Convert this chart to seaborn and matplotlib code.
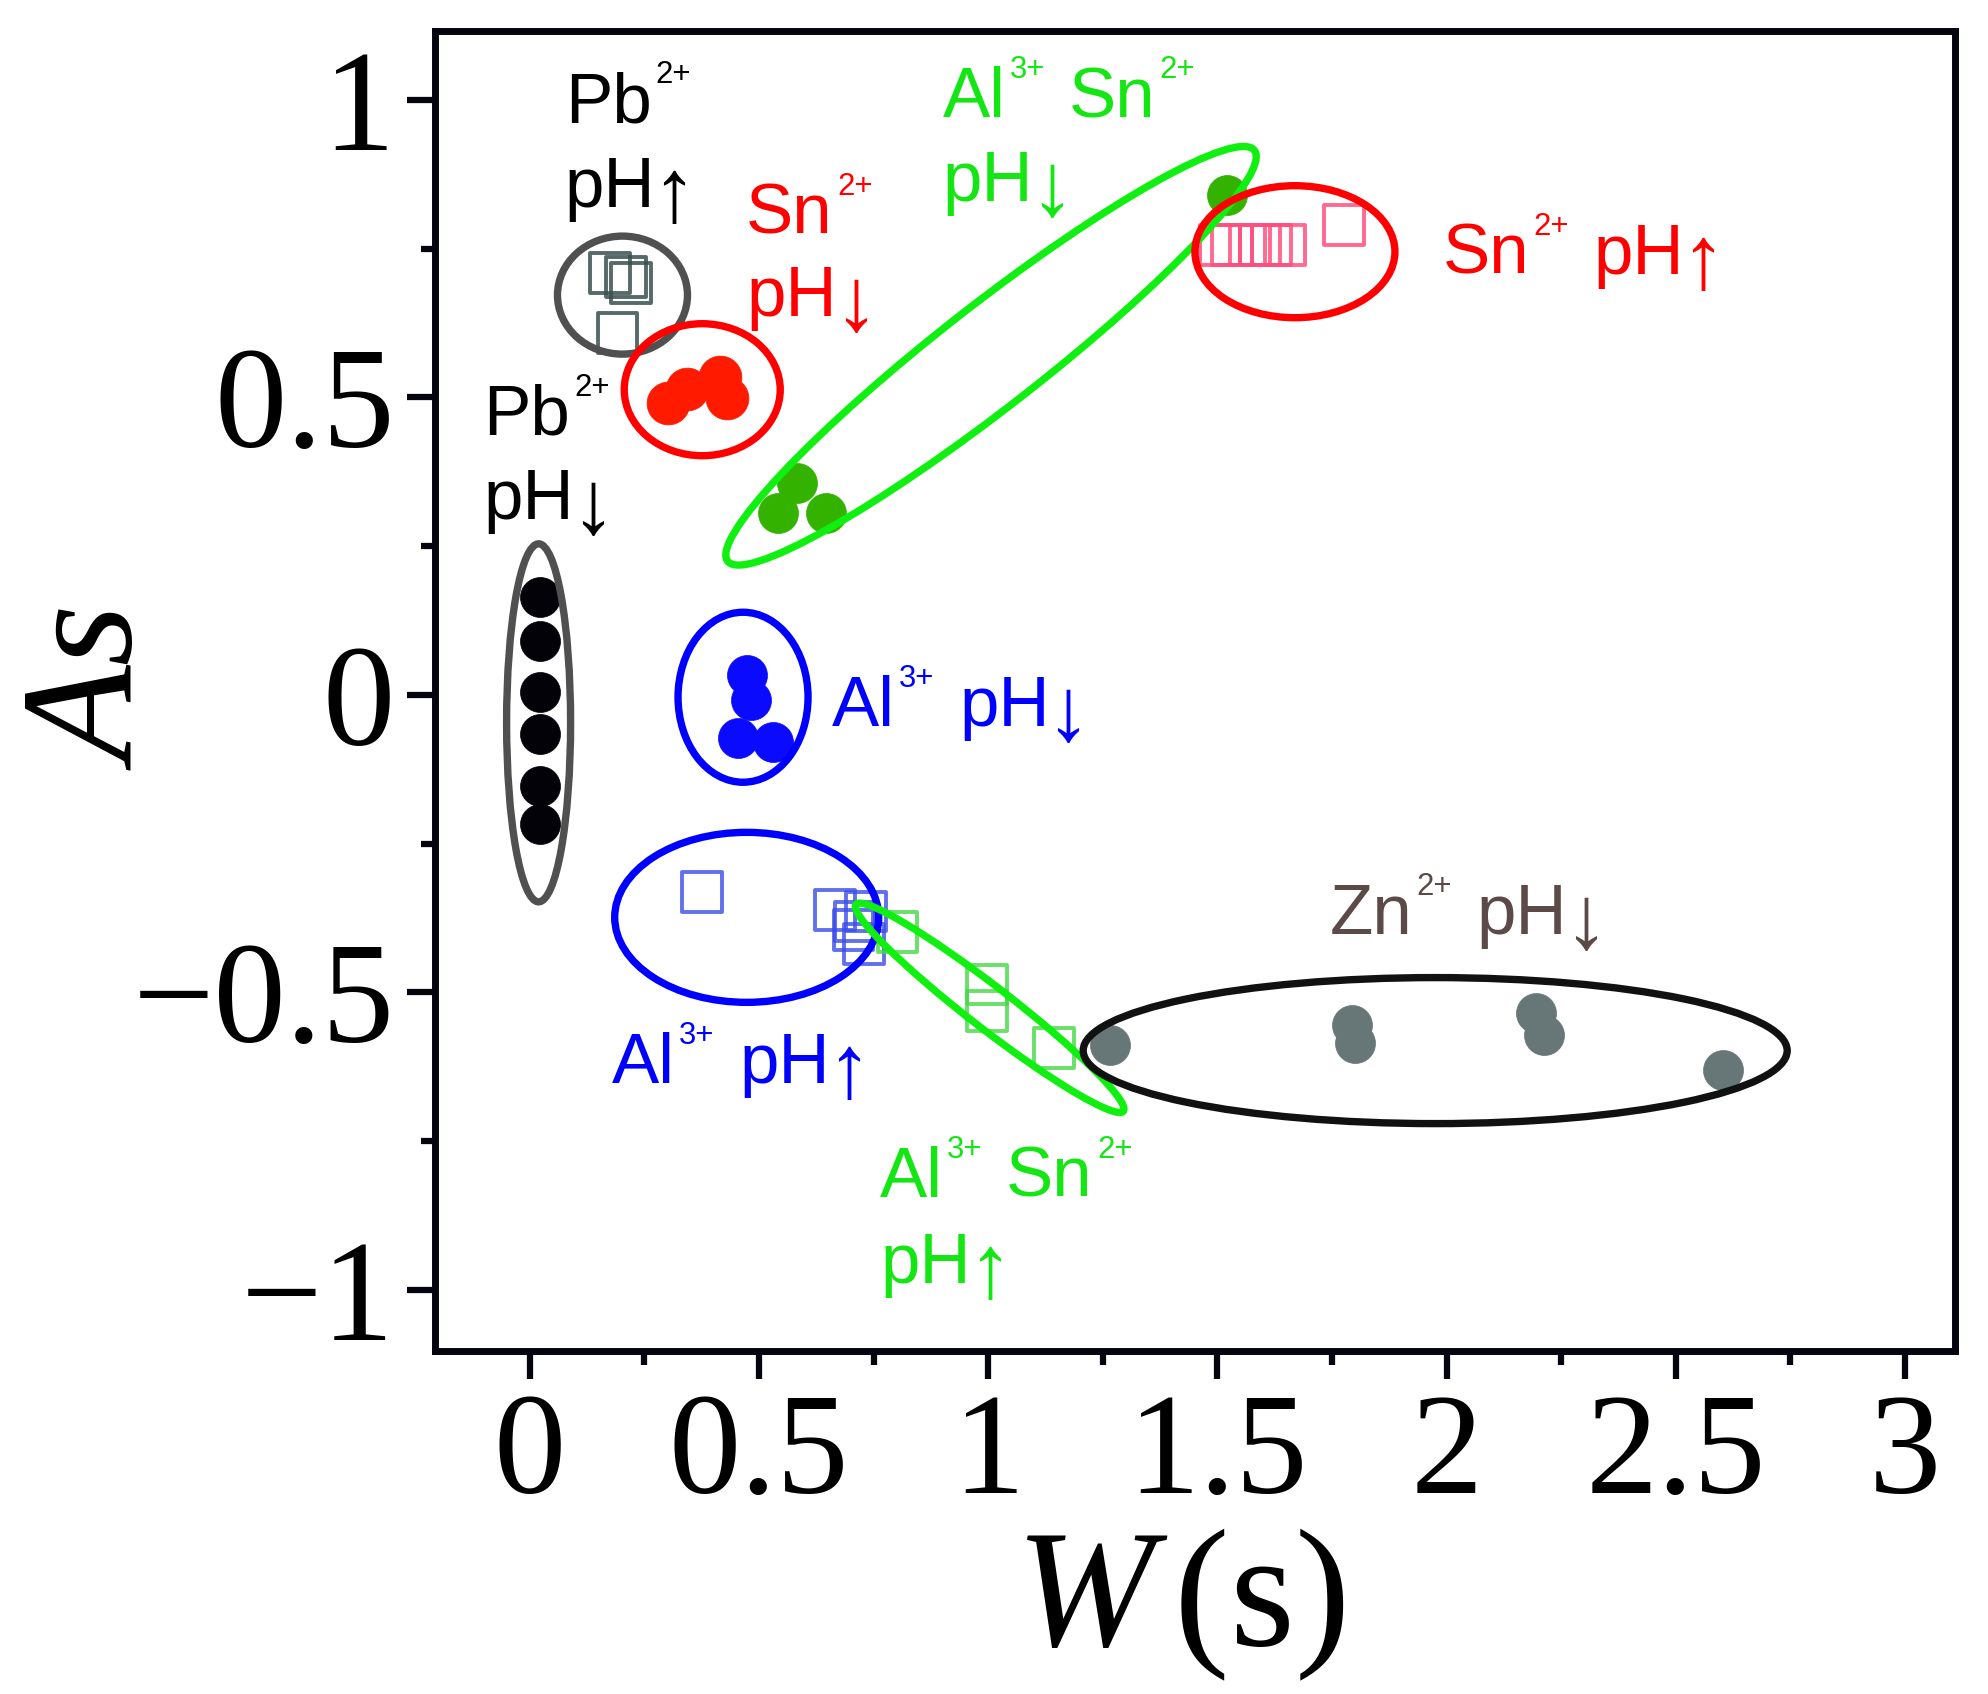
import matplotlib
matplotlib.use("Agg")
import numpy as np
import pandas as pd
import seaborn as sns
import matplotlib.pyplot as plt
from matplotlib.patches import Ellipse
from matplotlib.transforms import Affine2D
from matplotlib.ticker import MultipleLocator, FuncFormatter

# ---------------- data ----------------
pb_up_W = [0.175, 0.209, 0.220, 0.191]
pb_up_As = [0.709, 0.702, 0.692, 0.608]

pb_down_W = [0.023, 0.023, 0.023, 0.023, 0.023, 0.023]
pb_down_As = [0.165, 0.091, 0.004, -0.066, -0.154, -0.217]

sn_down_W = [0.302, 0.342, 0.415, 0.429]
sn_down_As = [0.491, 0.515, 0.535, 0.499]

alsn_down_W = [0.542, 0.582, 0.647, 1.520]
alsn_down_As = [0.305, 0.356, 0.305, 0.840]

sn_up_W = [1.506, 1.531, 1.571, 1.593, 1.618, 1.647, 1.776]
sn_up_As = [0.756, 0.756, 0.756, 0.756, 0.756, 0.756, 0.790]

al_down_W = [0.473, 0.482, 0.455, 0.530]
al_down_As = [0.034, -0.008, -0.073, -0.080]

al_up_W = [0.375, 0.666, 0.706, 0.710, 0.733, 0.729]
al_up_As = [-0.331, -0.362, -0.395, -0.381, -0.364, -0.419]

alsn_up_W = [0.802, 0.997, 0.997, 1.143]
alsn_up_As = [-0.399, -0.487, -0.531, -0.593]

zn_down_W = [1.266, 1.794, 1.800, 2.194, 2.212, 2.602]
zn_down_As = [-0.588, -0.555, -0.585, -0.535, -0.571, -0.630]

x_ticks = [0, 0.5, 1, 1.5, 2, 2.5, 3]
y_ticks = [-1, -0.5, 0, 0.5, 1]

# ---------------- style ----------------
sns.set_theme(style="white")
SERIF = ["Liberation Serif", "DejaVu Serif"]
SANS = ["Liberation Sans", "DejaVu Sans"]
plt.rcParams["font.family"] = SERIF
plt.rcParams["mathtext.fontset"] = "custom"
plt.rcParams["mathtext.it"] = "Liberation Serif:italic"
plt.rcParams["mathtext.rm"] = "Liberation Serif"
plt.rcParams["axes.unicode_minus"] = True

FIG_W, FIG_H, DPI = 19.88, 16.94, 100
fig = plt.figure(figsize=(FIG_W, FIG_H), dpi=DPI)
fig.patch.set_facecolor("white")
L, R, T, B = 435, 1955, 31, 1351
ax = fig.add_axes([L / 1988, 1 - B / 1694, (R - L) / 1988, (B - T) / 1694])
ax.set_facecolor("white")
XMIN, XMAX = -0.207, 3.109
YMIN, YMAX = -1.103, 1.116
ax.set_xlim(XMIN, XMAX)
ax.set_ylim(YMIN, YMAX)

# ---------------- points ----------------
groups = [
    (pb_up_W, pb_up_As, "s", False, "#3a5050", 820, 0.85),
    (pb_down_W, pb_down_As, "o", True, "#020208", 830, 1.0),
    (sn_down_W, sn_down_As, "o", True, "#ff1a00", 950, 1.0),
    (alsn_down_W, alsn_down_As, "o", True, "#33b300", 830, 1.0),
    (sn_up_W, sn_up_As, "s", False, "#ff4f7f", 820, 0.85),
    (al_down_W, al_down_As, "o", True, "#0a0aff", 830, 1.0),
    (al_up_W, al_up_As, "s", False, "#3a4ee8", 820, 0.8),
    (alsn_up_W, alsn_up_As, "s", False, "#45d845", 820, 0.8),
    (zn_down_W, zn_down_As, "o", True, "#677777", 830, 1.0),
]
for xs, ys, mk, filled, col, size, alpha in groups:
    df = pd.DataFrame({"W": xs, "As": ys})
    if filled:
        sns.scatterplot(data=df, x="W", y="As", ax=ax, marker=mk, s=size,
                        color=col, edgecolor=col, linewidth=0.5, alpha=alpha,
                        zorder=2, legend=False)
    else:
        sns.scatterplot(data=df, x="W", y="As", ax=ax, marker=mk, s=size,
                        color=col, facecolor="none", edgecolor=col,
                        linewidth=2.8, alpha=alpha, zorder=2, legend=False)

# ---------------- group ellipses (center in data, semi-axes in px) ----------------
SX = (R - L) / (XMAX - XMIN)
SY = (B - T) / (YMAX - YMIN)
ellipses = [
    (0.202, 0.672, 65, 59, 0, "#505050"),
    (0.376, 0.513, 78, 66, 0, "#ff0000"),
    (0.019, -0.047, 32, 179, 0, "#505050"),
    (0.465, -0.004, 65, 85, 0, "#0000ff"),
    (0.473, -0.374, 132, 85, 0, "#0000ff"),
    (1.006, 0.570, 334, 51, 37.95, "#10f010"),
    (1.669, 0.745, 100, 66, 0, "#ff0000"),
    (1.003, -0.526, 169, 21, -37.7, "#10f010"),
    (1.975, -0.598, 352, 73, 0, "#111111"),
]
for cx, cy, a, b, ang, col in ellipses:
    tr = Affine2D().scale(1.0 / SX, 1.0 / SY).translate(cx, cy) + ax.transData
    e = Ellipse((0, 0), 2 * a, 2 * b, angle=ang, transform=tr,
                fill=False, edgecolor=col, linewidth=5.3, zorder=3)
    ax.add_patch(e)

# ---------------- chemical labels with superscripts ----------------
FS = 51
SUP = 0.44 * FS
ARROW = 1.27 * FS
UP, DOWN = "\u2191", "\u2193"


def chem(x, y, parts, color):
    """parts: (text, kind, gap_pt) with kind 'm' main, 's' superscript, 'a' arrow."""
    prev_main = None
    prev = None
    for txt, kind, gap in parts:
        if prev is None:
            t = ax.text(x, y, txt, color=color, fontsize=FS, family=SANS,
                        va="baseline", ha="left", zorder=5)
            prev_main = t
        elif kind == "s":
            t = ax.annotate(txt, xy=(1, 1), xycoords=prev_main,
                            xytext=(gap, 8), textcoords="offset points",
                            va="top", ha="left", fontsize=SUP, family=SANS,
                            color=color, zorder=5)
        elif kind == "a":
            t = ax.annotate(txt, xy=(1, 0), xycoords=(prev, prev_main),
                            xytext=(gap, -13), textcoords="offset points",
                            va="bottom", ha="left", fontsize=ARROW, family=SANS,
                            color=color, zorder=5)
        else:
            t = ax.annotate(txt, xy=(1, 0), xycoords=(prev, prev_main),
                            xytext=(gap, 0), textcoords="offset points",
                            va="bottom", ha="left", fontsize=FS, family=SANS,
                            color=color, zorder=5)
            prev_main = t
        prev = t


BLACK, RED, GREEN, BLUE, BROWN = "#000000", "#ff0000", "#14e614", "#0000ff", "#5b4a47"
AG = -3
chem(0.076, 0.962, [("Pb", "m", 0), ("2+", "s", 3)], BLACK)
chem(0.076, 0.820, [("pH", "m", 0), (UP, "a", AG)], BLACK)
chem(0.472, 0.775, [("Sn", "m", 0), ("2+", "s", 3)], RED)
chem(0.472, 0.637, [("pH", "m", 0), (DOWN, "a", AG)], RED)
chem(-0.102, 0.437, [("Pb", "m", 0), ("2+", "s", 3)], BLACK)
chem(-0.102, 0.296, [("pH", "m", 0), (DOWN, "a", AG)], BLACK)
chem(0.901, 0.971, [("Al", "m", 0), ("3+", "s", 3), ("Sn", "m", 17), ("2+", "s", 3)], GREEN)
chem(0.901, 0.830, [("pH", "m", 0), (DOWN, "a", AG)], GREEN)
chem(1.991, 0.708, [("Sn", "m", 0), ("2+", "s", 3), ("pH", "m", 18), (UP, "a", AG)], RED)
chem(0.658, -0.052, [("Al", "m", 0), ("3+", "s", 3), ("pH", "m", 18), (DOWN, "a", AG)], BLUE)
chem(0.179, -0.652, [("Al", "m", 0), ("3+", "s", 3), ("pH", "m", 18), (UP, "a", AG)], BLUE)
chem(0.764, -0.844, [("Al", "m", 0), ("3+", "s", 3), ("Sn", "m", 17), ("2+", "s", 3)], GREEN)
chem(0.764, -0.988, [("pH", "m", 0), (UP, "a", AG)], GREEN)
chem(1.744, -0.402, [("Zn", "m", 0), ("2+", "s", 3), ("pH", "m", 18), (DOWN, "a", AG)], BROWN)

# ---------------- axes styling ----------------
for sp in ax.spines.values():
    sp.set_visible(True)
    sp.set_linewidth(5)
    sp.set_color("#05050f")

ax.xaxis.set_major_locator(MultipleLocator(0.5))
ax.xaxis.set_minor_locator(MultipleLocator(0.25))
ax.yaxis.set_major_locator(MultipleLocator(0.5))
ax.yaxis.set_minor_locator(MultipleLocator(0.25))
ax.set_xticks(x_ticks)
ax.set_yticks(y_ticks)
fmt = FuncFormatter(lambda v, p: f"{v:g}".replace("-", "\u2212"))
ax.xaxis.set_major_formatter(fmt)
ax.yaxis.set_major_formatter(fmt)
ax.tick_params(which="both", direction="out", bottom=True, left=True,
               top=False, right=False, color="#05050f")
ax.tick_params(which="major", length=20, width=4.5, labelsize=104)
ax.tick_params(which="minor", length=10, width=4.5)
ax.tick_params(axis="x", which="major", pad=10)
ax.tick_params(axis="y", which="major", pad=9)
for lab in ax.get_xticklabels() + ax.get_yticklabels():
    lab.set_family(SERIF)
    lab.set_color("black")
ax.grid(False)

ax.set_xlabel(r"$W\,$(s)", fontsize=120, color="black")
ax.xaxis.label.set_va("baseline")
ax.xaxis.set_label_coords((1180 - L) / (R - L), -(1645 - B) / (B - T))
ax.set_ylabel("As", fontsize=114, fontstyle="italic", color="black")
ax.yaxis.label.set_va("baseline")
ax.yaxis.set_label_coords(-(L - 140) / (R - L), 0.5)

fig.savefig("out.png", dpi=DPI, facecolor="white")
